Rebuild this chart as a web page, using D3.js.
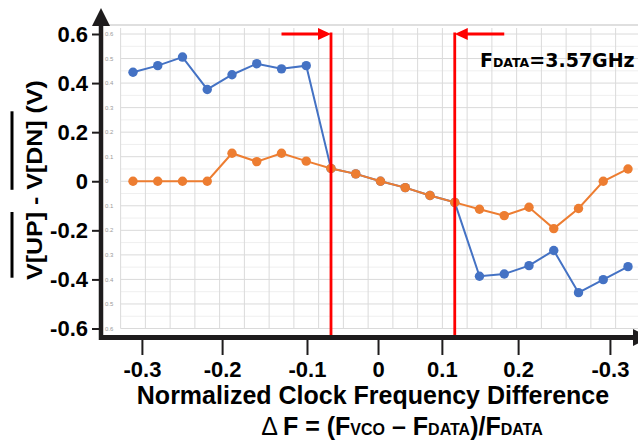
<!DOCTYPE html>
<html>
<head>
<meta charset="utf-8">
<script src="https://cdn.jsdelivr.net/npm/d3@7"></script>
<style>
  body { margin: 0; background: #fff; }
  svg { display: block; font-family: "Liberation Sans", Arial, sans-serif; }
</style>
</head>
<body>
<div id="chart"></div>
<script>
const pointIndex = d3.range(21);
const blueValues = [0.444, 0.471, 0.506, 0.374, 0.434, 0.479, 0.458, 0.471, 0.052, 0.030, 0.000,
  -0.026, -0.058, -0.086, -0.387, -0.378, -0.344, -0.282, -0.454, -0.401, -0.348];
const orangeValues = [0, 0, 0, 0, 0.114, 0.080, 0.114, 0.082, 0.052, 0.030, 0.000,
  -0.026, -0.058, -0.086, -0.114, -0.140, -0.106, -0.193, -0.111, 0.000, 0.050];

const yTickValues = [0.6, 0.4, 0.2, 0, -0.2, -0.4, -0.6];
const innerYTicks = d3.range(-6, 7).map(d => d / 10);
const xTickLabels = ["-0.3", "-0.2", "-0.1", "0", "0.1", "0.2", "-0.3"];
const xTickAt = [0.36, 3.6, 7.03, 9.9, 12.48, 15.56, 19.27];
const markerArrows = [{ from: 6, to: 8 }, { from: 15, to: 13 }];
const markerLevel = 0.6;

const width = 638, height = 446;
const svg = d3.select("#chart").append("svg")
  .attr("width", width)
  .attr("height", height);

const x = d3.scaleLinear().domain([0, 20]).range([133, 628]);
const y = d3.scaleLinear().domain([-0.6, 0.6]).range([328.5, 34]);

// pasted-in spreadsheet plot
const grid = svg.append("g");
grid.append("line")
  .attr("x1", 103).attr("x2", width)
  .attr("y1", 25).attr("y2", 25)
  .attr("stroke", "#d4d4d4").attr("stroke-width", 1.5);

grid.selectAll(".minor")
  .data(innerYTicks.slice(0, -1))
  .enter().append("line")
  .attr("x1", x(-0.5)).attr("x2", x(20.5))
  .attr("y1", d => y(d + 0.05)).attr("y2", d => y(d + 0.05))
  .attr("stroke", "#efefef");

grid.selectAll(".major")
  .data(innerYTicks)
  .enter().append("line")
  .attr("x1", x(-0.5)).attr("x2", x(20.5))
  .attr("y1", d => y(d)).attr("y2", d => y(d))
  .attr("stroke", "#dadada");

grid.selectAll(".vert")
  .data(d3.range(22))
  .enter().append("line")
  .attr("x1", d => x(d - 0.5)).attr("x2", d => x(d - 0.5))
  .attr("y1", y(0.6) - 6).attr("y2", y(-0.6))
  .attr("stroke", "#dadada");

grid.selectAll(".innerLabel")
  .data(innerYTicks)
  .enter().append("text")
  .attr("x", 105)
  .attr("y", d => y(d))
  .attr("dy", "0.35em")
  .attr("fill", "#9a9a9a")
  .style("font-size", "6px")
  .text(d => d === 0 ? "0" : Math.abs(d).toFixed(1));

const line = d3.line()
  .x((d, i) => x(pointIndex[i]))
  .y(d => y(d));

const series = [
  { values: blueValues, color: "#4472c4" },
  { values: orangeValues, color: "#ed7d31" }
];

series.forEach(s => {
  svg.append("path")
    .datum(s.values)
    .attr("d", line)
    .attr("fill", "none")
    .attr("stroke", s.color)
    .attr("stroke-width", 2);
  svg.append("g").selectAll("circle")
    .data(s.values)
    .enter().append("circle")
    .attr("cx", (d, i) => x(pointIndex[i]))
    .attr("cy", d => y(d))
    .attr("r", 4.7)
    .attr("fill", s.color);
});

// red frequency markers
const red = svg.append("g");
markerArrows.forEach(m => {
  const xt = x(m.to), xf = x(m.from), dir = Math.sign(xt - xf);
  red.append("line")
    .attr("x1", xt).attr("x2", xt)
    .attr("y1", y(markerLevel) - 1.5).attr("y2", 337)
    .attr("stroke", "#ff0000").attr("stroke-width", 2.8);
  red.append("line")
    .attr("x1", xf).attr("x2", xt - dir * 10)
    .attr("y1", y(markerLevel)).attr("y2", y(markerLevel))
    .attr("stroke", "#ff0000").attr("stroke-width", 3);
  red.append("path")
    .attr("d", `M${xt},${y(markerLevel)} L${xt - dir * 13},${y(markerLevel) - 6} L${xt - dir * 13},${y(markerLevel) + 6}Z`)
    .attr("fill", "#ff0000");
});

// bold outer axes
const axisColor = "#1e1c1d";
svg.append("line")
  .attr("x1", 101).attr("x2", 101)
  .attr("y1", 22).attr("y2", 340)
  .attr("stroke", axisColor).attr("stroke-width", 4.5);
svg.append("path")
  .attr("d", "M101,8 L110,26 L92,26Z")
  .attr("fill", axisColor);
svg.append("line")
  .attr("x1", 99).attr("x2", 636)
  .attr("y1", 337.5).attr("y2", 337.5)
  .attr("stroke", axisColor).attr("stroke-width", 5);
svg.append("path")
  .attr("d", "M633,329 L650,337.5 L633,346Z")
  .attr("fill", axisColor);

const yAxis = d3.axisLeft(y)
  .tickValues(yTickValues)
  .tickSize(7)
  .tickPadding(4)
  .tickFormat(d => d === 0 ? "0" : d.toFixed(1));

svg.append("g")
  .attr("transform", "translate(99,0)")
  .call(yAxis)
  .call(g => g.select(".domain").remove())
  .call(g => g.selectAll(".tick line").attr("stroke", axisColor).attr("stroke-width", 2))
  .call(g => g.selectAll(".tick text")
    .attr("fill", "#000")
    .style("font-family", "'Liberation Sans', Arial, sans-serif")
    .style("font-size", "22px")
    .style("font-weight", "bold"));

const xAxis = d3.axisBottom(x)
  .tickValues(xTickAt)
  .tickSize(15)
  .tickPadding(6)
  .tickFormat((d, i) => xTickLabels[i]);

svg.append("g")
  .attr("transform", "translate(0,340)")
  .call(xAxis)
  .call(g => g.select(".domain").remove())
  .call(g => g.selectAll(".tick line").attr("stroke", axisColor).attr("stroke-width", 2))
  .call(g => g.selectAll(".tick text")
    .attr("fill", "#000")
    .style("font-family", "'Liberation Sans', Arial, sans-serif")
    .style("font-size", "22px")
    .style("font-weight", "bold"));

// x title
svg.append("text")
  .attr("x", 373).attr("y", 404)
  .attr("text-anchor", "middle")
  .style("font-size", "25px")
  .style("font-weight", "bold")
  .text("Normalized Clock Frequency Difference");

const sub = svg.append("text")
  .attr("x", 402).attr("y", 435)
  .attr("text-anchor", "middle")
  .style("font-size", "25px")
  .style("font-weight", "bold");
[["\u0394", 25, "normal"], ["\u2009F = (F", 25, "bold"], ["VCO", 16, "bold"], [" \u2013 F", 25, "bold"],
 ["DATA", 16, "bold"], [")/F", 25, "bold"], ["DATA", 16, "bold"]].forEach(p => {
  sub.append("tspan")
    .style("font-size", p[1] + "px")
    .style("font-weight", p[2])
    .text(p[0]);
});

// y title with overlines
const yTitle = svg.append("g");
const yText = yTitle.append("text")
  .attr("x", 0).attr("y", 0)
  .style("font-size", "22px")
  .style("font-weight", "bold")
  .text("V[UP] - V[DN] (V)");
const node = yText.node();
const full = node.getComputedTextLength();
const sx = 200 / full;
yText.attr("x", -full / 2);
yTitle.attr("transform", `translate(42,180) rotate(-90) scale(${sx},1)`);
const upEnd = node.getSubStringLength(0, 5);
const dnStart = node.getSubStringLength(0, 8);
const dnEnd = node.getSubStringLength(0, 13);
[[2, upEnd], [dnStart, dnEnd + 8]].forEach(r => {
  yTitle.append("line")
    .attr("x1", -full / 2 + r[0]).attr("x2", -full / 2 + r[1])
    .attr("y1", -30).attr("y2", -30)
    .attr("stroke", "#000").attr("stroke-width", 3);
});

// data rate note
const note = svg.append("text")
  .attr("x", 480).attr("y", 67)
  .style("font-family", "'DejaVu Sans', sans-serif")
  .style("font-weight", "bold");
[["F", 19], ["DATA", 12.5], ["=3.57GHz", 19]].forEach(p => {
  note.append("tspan").style("font-size", p[1] + "px").text(p[0]);
});
</script>
</body>
</html>
